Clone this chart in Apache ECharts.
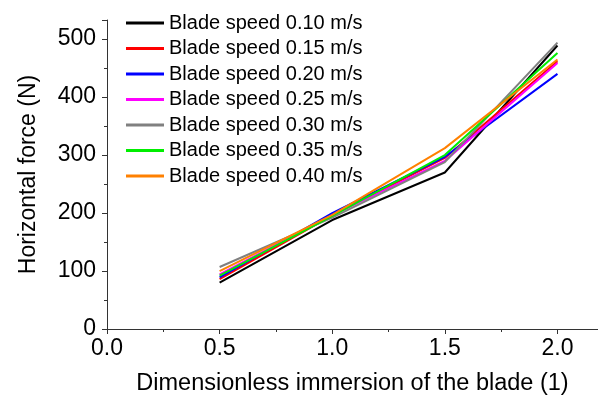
<!DOCTYPE html>
<html>
<head>
<meta charset="utf-8">
<script src="https://cdn.jsdelivr.net/npm/echarts@6/dist/echarts.min.js"></script>
<style>
html, body { margin: 0; padding: 0; background: #fff; }
#chart { width: 598px; height: 405px; }
</style>
</head>
<body>
<div id="chart"></div>
<script>
// Dimensionless immersion of the blade
const immersion = [0.5, 1.0, 1.5, 2.0];

// Horizontal force (N) for each blade speed
const speedNames = [
  'Blade speed 0.10 m/s',
  'Blade speed 0.15 m/s',
  'Blade speed 0.20 m/s',
  'Blade speed 0.25 m/s',
  'Blade speed 0.30 m/s',
  'Blade speed 0.35 m/s',
  'Blade speed 0.40 m/s'
];
const force010 = [80, 188, 270, 489];
const force015 = [86, 196, 295, 462];
const force020 = [89, 200, 297, 440];
const force025 = [94, 196, 290, 459];
const force030 = [107, 192, 288, 494];
const force035 = [92, 195, 300, 476];
const force040 = [100, 197, 312, 465];

const forceSeries = [force010, force015, force020, force025, force030, force035, force040];
const lineColors = ['#000000', '#ff0000', '#0000ff', '#ff00ff', '#808080', '#00ee00', '#ff8000'];

const chart = echarts.init(document.getElementById('chart'));

const series = forceSeries.map((vals, i) => ({
  name: speedNames[i],
  type: 'line',
  data: immersion.map((x, j) => [x, vals[j]]),
  symbol: 'none',
  lineStyle: { width: 2, color: lineColors[i] },
  itemStyle: { color: lineColors[i] },
  emphasis: { disabled: true },
  animation: false
}));

const font = 'Liberation Sans, Arial, sans-serif';

chart.setOption({
  animation: false,
  backgroundColor: '#ffffff',
  grid: { left: 107, right: 0, top: 20, bottom: 76, containLabel: false },
  legend: {
    orient: 'vertical',
    left: 121,
    top: 8,
    itemWidth: 38,
    itemHeight: 3,
    itemGap: 5.5,
    icon: 'rect',
    textStyle: { fontFamily: font, fontSize: 20, color: '#000' },
    data: speedNames
  },
  xAxis: {
    type: 'value',
    min: 0,
    max: 2.18,
    interval: 0.5,
    name: 'Dimensionless immersion of the blade (1)',
    nameLocation: 'middle',
    nameGap: 43,
    nameTextStyle: { fontFamily: font, fontSize: 23.5, color: '#000' },
    axisLine: { show: true, onZero: false, lineStyle: { color: '#333', width: 1 } },
    axisTick: { show: true, inside: false, length: 5, lineStyle: { color: '#333' } },
    minorTick: { show: true, splitNumber: 2, length: 3, lineStyle: { color: '#333' } },
    splitLine: { show: false },
    axisLabel: {
      fontFamily: font, fontSize: 23, color: '#000', margin: 8,
      formatter: v => v.toFixed(1),
      showMaxLabel: false
    }
  },
  yAxis: {
    type: 'value',
    min: 0,
    max: 533,
    interval: 100,
    name: 'Horizontal force (N)',
    nameLocation: 'middle',
    nameGap: 67,
    nameRotate: 90,
    nameTextStyle: { fontFamily: font, fontSize: 23, color: '#000' },
    axisLine: { show: true, lineStyle: { color: '#333', width: 1 } },
    axisTick: { show: true, inside: false, length: 5, lineStyle: { color: '#333' } },
    minorTick: { show: true, splitNumber: 2, length: 3, lineStyle: { color: '#333' } },
    splitLine: { show: false },
    axisLabel: {
      fontFamily: font, fontSize: 23, color: '#000', margin: 11,
      showMaxLabel: false
    }
  },
  series: series
});
</script>
</body>
</html>
